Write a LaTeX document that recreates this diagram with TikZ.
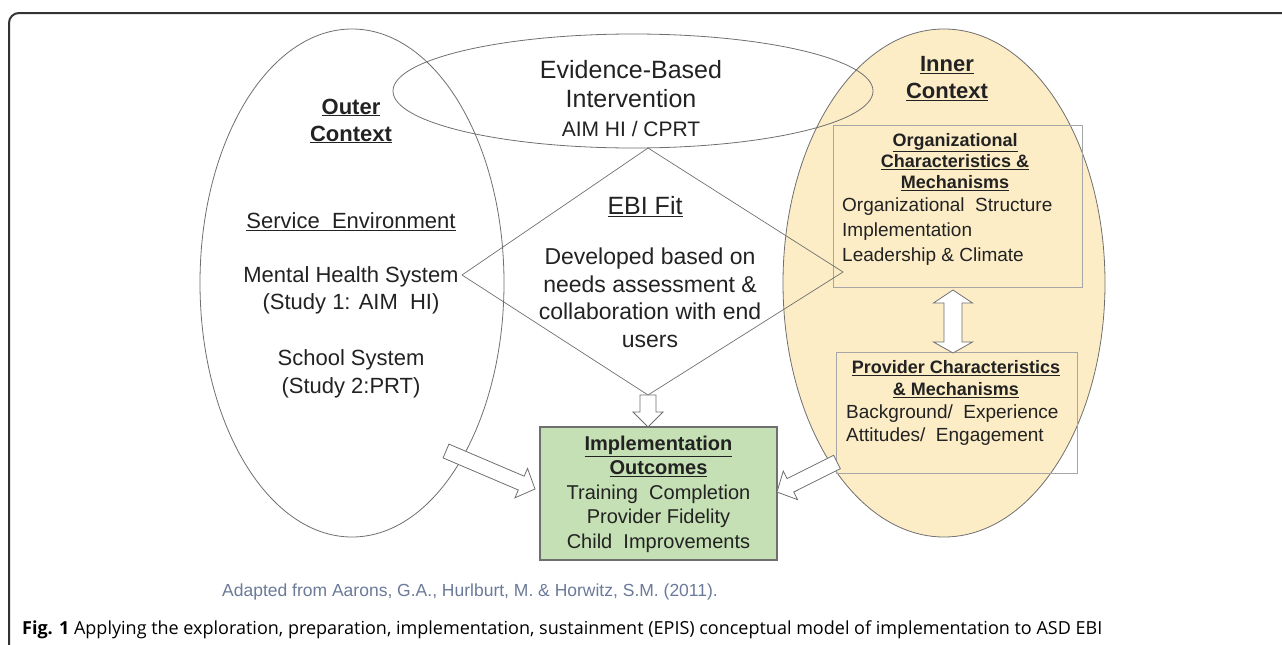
\documentclass[tikz,border=0pt]{standalone}
\usepackage{fontspec}
\setmainfont{Liberation Sans}
\newfontfamily\capfont{Open Sans}
\definecolor{innerfill}{HTML}{FCEDC7}
\definecolor{outfill}{HTML}{C5E0B4}
\definecolor{linegray}{HTML}{6F6F6F}
\definecolor{boxgray}{HTML}{A6A6A6}
\definecolor{txt}{HTML}{222222}
\definecolor{citeblue}{HTML}{6B7A99}
\definecolor{framegray}{HTML}{333333}

\newcommand{\blockarrow}[6]{%
  \begin{scope}[shift={#1},rotate=#2]
    \draw[arrowbody] (0,-#4) -- ({#3-#6},-#4) -- ({#3-#6},-#5) -- (#3,0)
      -- ({#3-#6},#5) -- ({#3-#6},#4) -- (0,#4) -- cycle;
  \end{scope}}

\begin{document}
\begin{tikzpicture}[x=1pt,y=-1pt,
    arrowbody/.style={draw=linegray,fill=white,line width=0.8pt},
    every node/.style={text=txt,align=center,inner sep=0pt}]

      \useasboundingbox (0,0) rectangle (1282,645);
      \draw[framegray,line width=2pt,rounded corners=10pt] (9,645) -- (9,13) -- (1282,13);

      \fill[innerfill] (944,283) ellipse [x radius=161, y radius=254];
      \draw[linegray,line width=0.8pt] (944,283) ellipse [x radius=161, y radius=254];
      \draw[linegray,line width=0.8pt] (352,283) ellipse [x radius=152, y radius=254];
      \draw[linegray,line width=0.8pt] (633,91) ellipse [x radius=240, y radius=57];

      \begin{scope}[every node/.style={draw=boxgray,line width=0.8pt,inner sep=0pt}]
        \node (orgbox)  [minimum width=249, minimum height=162] at (957.5,206) {};
        \node (provbox) [minimum width=241, minimum height=121] at (956.5,412.5) {};
      \end{scope}
      \node (outbox) [draw=linegray,fill=outfill,line width=1.2pt,minimum width=237,minimum height=133] at (658.5,493.5) {};

      \coordinate (fitN) at (648,148);
      \coordinate (fitE) at (843,272);
      \coordinate (fitS) at (648,395);
      \coordinate (fitW) at (462,275);
      \draw[linegray,line width=0.7pt] (fitN) -- (fitE) -- (fitS) -- (fitW) -- cycle;

      \coordinate (outerTail) at (446,451);
      \coordinate (innerTail) at (837,462);
      \blockarrow{(fitS)}{-90}{32}{8}{15}{15}
      \blockarrow{(outerTail)}{-23.1}{96.8}{7.5}{16}{15}
      \blockarrow{(innerTail)}{206.6}{67.1}{7.5}{16}{15}
      \draw[arrowbody] (953,290) -- (972.5,303) -- (962,303) -- (962,342) -- (972.5,342)
        -- (953,353) -- (933.5,342) -- (944,342) -- (944,303) -- (933.5,303) -- cycle;

      \begin{scope}[every node/.style={text=txt,align=center,inner sep=0pt,font=\fontsize{22}{27}\selectfont}]
        \node (outer) at (351,121) {\textbf{\underline{Outer}}\\\textbf{\underline{Context}}};
        \node (serv) at (351,222) {\underline{Service\ \ Environment}};
        \node (mhs) at (351,290) {Mental Health System\\(Study 1: AIM\ \ HI)};
        \node[font=\fontsize{22}{28}\selectfont] (school) at (351,374) {School System\\(Study 2:PRT)};
        \node (inner) at (947,79) {\textbf{\underline{Inner}}\\\textbf{\underline{Context}}};
        \node[font=\fontsize{25}{29}\selectfont] (ebi) at (631,99)
          {Evidence-Based\\Intervention\\{\fontsize{21}{26}\selectfont AIM HI / CPRT}};
        \node[font=\fontsize{25}{30}\selectfont] (fit) at (645,207) {\underline{EBI Fit}};
        \node[font=\fontsize{23}{27.5}\selectfont] (fitdesc) at (650,298)
          {Developed based on\\needs assessment \&\\collaboration with end\\users};
      \end{scope}

      \begin{scope}[every node/.style={text=txt,inner sep=0pt,font=\fontsize{19}{25}\selectfont}]
        \node[align=center,font=\bfseries\fontsize{18}{21}\selectfont] (orghead) at (955,162)
          {\underline{Organizational}\\\underline{Characteristics \&}\\\underline{Mechanisms}};
        \node[align=left,anchor=west] (orgtxt) at (842,232)
          {Organizational\ \ Structure\\Implementation\\Leadership \& Climate};
        \node[align=center,font=\bfseries\fontsize{18}{22}\selectfont] (provhead) at (956,379)
          {\underline{Provider Characteristics}\\\underline{\& Mechanisms}};
        \node[align=left,anchor=west,font=\fontsize{19}{23}\selectfont] (provtxt) at (846,425.5)
          {Background/\ \ Experience\\Attitudes/\ \ Engagement};
        \node[align=center,font=\fontsize{20}{24.5}\selectfont] (outtxt) at (658.5,494)
          {\textbf{\underline{Implementation}}\\\textbf{\underline{Outcomes}}\\Training\ \ Completion\\Provider Fidelity\\Child\ \ Improvements};
      \end{scope}

      \node[text=citeblue,font=\fontsize{17.5}{20}\selectfont] (cite) at (470,592)
        {Adapted from Aarons, G.A., Hurlburt, M. \& Horwitz, S.M. (2011).};
      \node[anchor=west,text=black,font=\capfont\fontsize{18}{22}\selectfont] (caption) at (22,630)
        {\textbf{Fig. 1} Applying the exploration, preparation, implementation, sustainment (EPIS) conceptual model of implementation to ASD EBI};

    \end{tikzpicture}
\end{document}
